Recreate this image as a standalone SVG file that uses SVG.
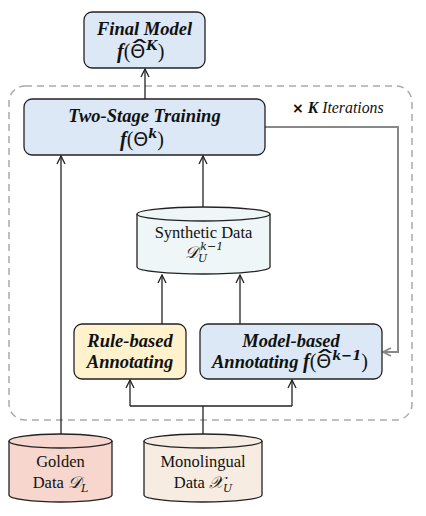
<svg xmlns="http://www.w3.org/2000/svg" width="426" height="516" viewBox="0 0 426 516">
<defs>
<style>
.box{stroke:#222;stroke-width:1.3}
.blue{fill:#dce8f5}
.yellow{fill:#fff2cc}
.title{font-family:"Liberation Serif","Times New Roman",serif;font-weight:bold;font-style:italic;font-size:18.5px;fill:#111}
.lbl{font-family:"Liberation Serif","Times New Roman",serif;font-size:16.5px;fill:#111}
.ml{font-family:"Liberation Serif","Times New Roman",serif;font-size:20px;fill:#111}
.m{font-family:"DejaVu Serif","Liberation Serif",serif;font-style:italic}
.fb{font-family:"Liberation Serif",serif;font-weight:bold;font-style:italic;font-size:20px}
.th{font-family:"DejaVu Sans",sans-serif;font-style:normal;font-weight:normal;font-size:19px}
.sup{font-family:"DejaVu Serif",serif;font-style:italic;font-weight:bold;font-size:13px}
.hat{font-family:"DejaVu Sans",sans-serif;font-size:22px;fill:#111}
.conn{stroke:#222;stroke-width:1.3;fill:none}
</style>
<marker id="ah" viewBox="0 0 10 10" refX="9" refY="5" markerWidth="10" markerHeight="10" markerUnits="userSpaceOnUse" orient="auto">
<path d="M1,1 L9,5 L1,9" fill="none" stroke="#222" stroke-width="1.3"/>
</marker>
<marker id="ahg" viewBox="0 0 10 10" refX="9" refY="5" markerWidth="10" markerHeight="10" markerUnits="userSpaceOnUse" orient="auto">
<path d="M1,1 L9,5 L1,9" fill="none" stroke="#888" stroke-width="1.8"/>
</marker>
</defs>
<rect width="426" height="516" fill="#fff"/>

<rect id="container" x="9" y="86" width="403" height="334" rx="16" fill="none" stroke="#aaa" stroke-width="1.5" stroke-dasharray="7 5"/>

<g id="connectors">
<line class="conn" x1="145" y1="99" x2="145" y2="69" marker-end="url(#ah)"/>
<line class="conn" x1="61" y1="434" x2="61" y2="156" marker-end="url(#ah)"/>
<line class="conn" x1="203" y1="207" x2="203" y2="156" marker-end="url(#ah)"/>
<line class="conn" x1="162" y1="324" x2="162" y2="275" marker-end="url(#ah)"/>
<line class="conn" x1="240" y1="324" x2="240" y2="275" marker-end="url(#ah)"/>
<line class="conn" x1="203" y1="434" x2="203" y2="406"/>
<path class="conn" d="M130,406 H292"/>
<line class="conn" x1="130" y1="406" x2="130" y2="380" marker-end="url(#ah)"/>
<line class="conn" x1="292" y1="406" x2="292" y2="380" marker-end="url(#ah)"/>
<path d="M265,127 H398 V352 H383" fill="none" stroke="#888" stroke-width="2" marker-end="url(#ahg)"/>
</g>

<text class="lbl" x="292" y="113" style="font-size:15.8px"><tspan font-family="DejaVu Sans,sans-serif" font-weight="bold" font-size="14px">×</tspan> <tspan font-weight="bold" font-style="italic">K</tspan><tspan font-style="italic"> Iterations</tspan></text>

<g id="final-model">
<rect class="box blue" x="84" y="12" width="121" height="56" rx="8"/>
<text class="title" x="144.5" y="35" text-anchor="middle">Final Model</text>
<text class="ml" x="117" y="58"><tspan class="fb">f</tspan>(<tspan class="th">Θ</tspan><tspan class="sup" dx="1" dy="-8">K</tspan><tspan dy="8">)</tspan></text>
<text class="hat" text-anchor="middle" transform="translate(139.5,55.5) scale(2.1,1)">ˆ</text>
</g>

<g id="two-stage">
<rect class="box blue" x="24" y="99" width="241" height="56" rx="8"/>
<text class="title" x="144.5" y="122" text-anchor="middle">Two-Stage Training</text>
<text class="ml" x="120" y="146"><tspan class="fb">f</tspan>(<tspan class="th">Θ</tspan><tspan class="sup" dy="-8">k</tspan><tspan dy="8">)</tspan></text>
</g>

<g id="synthetic-data">
<path class="box" d="M137,214 A66.5,7 0 0 1 270,214 V267 A66.5,7 0 0 1 137,267 Z" fill="#eef6f8"/>
<path class="box" d="M137,214 A66.5,7 0 0 0 270,214" fill="none"/>
<text class="lbl" x="203.5" y="238" text-anchor="middle">Synthetic Data</text>
<text class="lbl" x="185" y="258"><tspan class="m">𝒟</tspan><tspan class="m" font-size="11px" dy="4">U</tspan><tspan class="m" font-size="11px" dx="-7" dy="-12">k−1</tspan></text>
</g>

<g id="rule-based">
<rect class="box yellow" x="74" y="324" width="112" height="55" rx="8"/>
<text class="title" x="130" y="347" text-anchor="middle">Rule-based</text>
<text class="title" x="130" y="368" text-anchor="middle">Annotating</text>
</g>

<g id="model-based">
<rect class="box blue" x="200" y="324" width="182" height="55" rx="8"/>
<text class="title" x="291" y="347" text-anchor="middle">Model-based</text>
<text class="title" x="212" y="368">Annotating <tspan class="fb">f</tspan><tspan font-weight="normal" font-style="normal" font-size="20px">(<tspan class="th">Θ</tspan><tspan class="sup" dx="1" dy="-8">k−1</tspan><tspan dy="8">)</tspan></tspan></text>
<text class="hat" text-anchor="middle" transform="translate(325,365.5) scale(2.1,1)">ˆ</text>
</g>

<g id="golden-data">
<path class="box" d="M9,441 A51.5,7 0 0 1 112,441 V495 A51.5,7 0 0 1 9,495 Z" fill="#f6d6cd"/>
<path class="box" d="M9,441 A51.5,7 0 0 0 112,441" fill="none"/>
<text class="lbl" x="60.5" y="467" text-anchor="middle">Golden</text>
<text class="lbl" x="60.5" y="488" text-anchor="middle">Data <tspan class="m">𝒟</tspan><tspan class="m" font-size="11px" dy="4">L</tspan></text>
</g>

<g id="monolingual-data">
<path class="box" d="M144,441 A59,7 0 0 1 262,441 V495 A59,7 0 0 1 144,495 Z" fill="#f6ece2"/>
<path class="box" d="M144,441 A59,7 0 0 0 262,441" fill="none"/>
<text class="lbl" x="203" y="467" text-anchor="middle">Monolingual</text>
<text class="lbl" x="203" y="488" text-anchor="middle">Data <tspan class="m">𝒳</tspan><tspan class="m" font-size="11px" dy="4">U</tspan></text>
</g>
</svg>
